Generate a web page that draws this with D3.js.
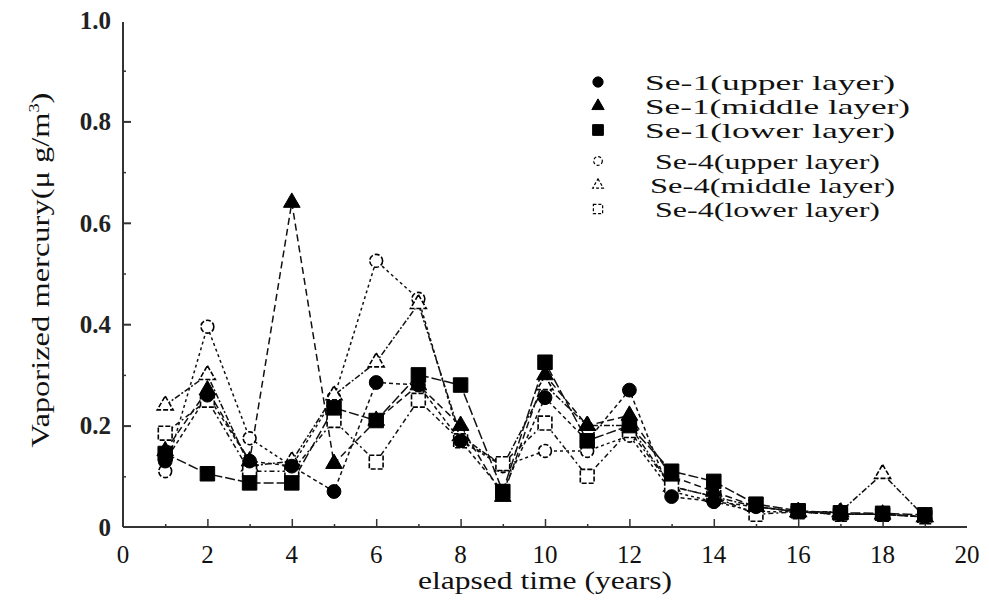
<!DOCTYPE html>
<html>
<head>
<meta charset="utf-8">
<script src="https://cdn.jsdelivr.net/npm/d3@7"></script>
<style>
  html, body { margin: 0; padding: 0; background: #fff; }
  svg { display: block; }
</style>
</head>
<body>
<svg id="chart" width="989" height="605"></svg>
<script>
// elapsed time (years)
const years = [1, 2, 3, 4, 5, 6, 7, 8, 9, 10, 11, 12, 13, 14, 15, 16, 17, 18, 19];

// vaporized mercury (μg/m³) per site and layer
const se1Upper  = [0.13, 0.26, 0.13, 0.12, 0.07, 0.285, 0.28, 0.17, 0.07, 0.255, 0.17, 0.27, 0.06, 0.05, 0.04, 0.03, 0.025, 0.025, 0.02];
const se1Middle = [0.15, 0.27, 0.13, 0.64, 0.125, 0.21, 0.28, 0.20, 0.06, 0.30, 0.20, 0.22, 0.10, 0.07, 0.04, 0.03, 0.025, 0.025, 0.02];
const se1Lower  = [0.145, 0.105, 0.087, 0.087, 0.235, 0.21, 0.30, 0.28, 0.07, 0.325, 0.17, 0.20, 0.11, 0.09, 0.045, 0.032, 0.028, 0.027, 0.024];
const se4Upper  = [0.11, 0.395, 0.175, 0.12, 0.255, 0.525, 0.45, 0.17, 0.12, 0.15, 0.15, 0.18, 0.07, 0.05, 0.03, 0.03, 0.025, 0.025, 0.02];
const se4Middle = [0.24, 0.30, 0.12, 0.13, 0.26, 0.325, 0.44, 0.18, 0.12, 0.28, 0.20, 0.20, 0.08, 0.06, 0.04, 0.03, 0.03, 0.105, 0.02];
const se4Lower  = [0.185, 0.25, 0.11, 0.11, 0.21, 0.128, 0.25, 0.17, 0.125, 0.205, 0.10, 0.19, 0.08, 0.06, 0.025, 0.03, 0.025, 0.025, 0.02];

const seriesNames = ["Se-1(upper layer)", "Se-1(middle layer)", "Se-1(lower layer)",
                     "Se-4(upper layer)", "Se-4(middle layer)", "Se-4(lower layer)"];
const seriesValues = [se1Upper, se1Middle, se1Lower, se4Upper, se4Middle, se4Lower];

const xTicks = [0, 2, 4, 6, 8, 10, 12, 14, 16, 18, 20];
const yTicks = [0, 0.2, 0.4, 0.6, 0.8, 1.0];
const yTickLabels = ["0", "0.2", "0.4", "0.6", "0.8", "1.0"];

// drawing styles per series: marker shape, filled or open, dash pattern
const styles = [
  { shape: "circle",   filled: true,  dash: "4,3" },
  { shape: "triangle", filled: true,  dash: "7,4" },
  { shape: "square",   filled: true,  dash: "10,3" },
  { shape: "circle",   filled: false, dash: "3,3" },
  { shape: "triangle", filled: false, dash: "6,2,2,2" },
  { shape: "square",   filled: false, dash: "5,3,2,3" }
];

const FONT = "'Liberation Serif', 'Times New Roman', Tinos, 'DejaVu Serif', serif";

const svg = d3.select("#chart")
  .attr("font-family", FONT)
  .style("font-family", FONT);
const x = d3.scaleLinear().domain([0, 20]).range([123, 967]);
const y = d3.scaleLinear().domain([0, 1]).range([527, 20]);

// axes: left and bottom lines with inward ticks
const axisColor = "#333";
svg.append("line").attr("x1", x(0)).attr("x2", x(0)).attr("y1", y(1) + 2).attr("y2", y(0))
  .attr("stroke", axisColor).attr("stroke-width", 2);
svg.append("line").attr("x1", x(0)).attr("x2", x(20)).attr("y1", y(0)).attr("y2", y(0))
  .attr("stroke", axisColor).attr("stroke-width", 2);

const tickGroup = (axis) => svg.append("g").call(axis)
  .call(g => g.select(".domain").remove())
  .call(g => g.selectAll("line").attr("stroke", axisColor));

tickGroup(d3.axisRight(y).tickValues([0.2, 0.4, 0.6, 0.8]).tickSize(8).tickFormat(""))
  .attr("transform", `translate(${x(0)},0)`).selectAll("line").attr("stroke-width", 2);
tickGroup(d3.axisRight(y).tickValues([0.1, 0.3, 0.5, 0.7, 0.9]).tickSize(3).tickFormat(""))
  .attr("transform", `translate(${x(0)},0)`).selectAll("line").attr("stroke-width", 1.5);
tickGroup(d3.axisTop(x).tickValues(xTicks.slice(1, -1)).tickSize(8).tickFormat(""))
  .attr("transform", `translate(0,${y(0)})`).selectAll("line").attr("stroke-width", 1.5);
tickGroup(d3.axisTop(x).tickValues(d3.range(1, 20, 2)).tickSize(3).tickFormat(""))
  .attr("transform", `translate(0,${y(0)})`).selectAll("line").attr("stroke-width", 1.5);

// tick labels
svg.append("g").selectAll("text").data(yTicks).join("text")
  .attr("x", 111).attr("y", d => y(d)).attr("dy", "0.35em")
  .attr("text-anchor", "end").attr("font-size", 25).attr("font-weight", "bold").attr("fill", "#222")
  .attr("font-family", FONT)
  .text((d, i) => yTickLabels[i]);
svg.append("g").selectAll("text").data(xTicks).join("text")
  .attr("x", d => x(d)).attr("y", 554).attr("dy", "0.35em")
  .attr("text-anchor", "middle").attr("font-size", 25).attr("fill", "#111")
  .attr("font-family", FONT)
  .text(d => d);

// axis titles
svg.append("text").attr("x", 545).attr("y", 580).attr("dy", "0.35em")
  .attr("text-anchor", "middle").attr("font-size", 25).attr("fill", "#111")
  .attr("font-family", FONT)
  .attr("textLength", 254).attr("lengthAdjust", "spacingAndGlyphs")
  .text("elapsed time (years)");

const yTitle = svg.append("text")
  .attr("transform", "translate(40,270) rotate(-90) scale(1.3,1)")
  .attr("dy", "0.35em")
  .attr("text-anchor", "middle").attr("font-size", 25).attr("fill", "#111")
  .attr("font-family", FONT);
yTitle.append("tspan").text("Vaporized mercury(μ g/m");
yTitle.append("tspan").attr("font-size", 14).attr("dy", -10).text("3");
yTitle.append("tspan").attr("dy", 10).text(")");

// marker symbol paths
const symbolOf = s => s === "circle" ? d3.symbolCircle : s === "triangle" ? d3.symbolTriangle : d3.symbolSquare;
const sizeOf = (s, filled) => s === "circle" ? (filled ? 150 : 130) : s === "triangle" ? (filled ? 120 : 110) : (filled ? 210 : 190);

// lines
const line = d3.line().x((d, i) => x(years[i])).y(d => y(d));
seriesValues.forEach((vals, k) => {
  svg.append("path").datum(vals)
    .attr("d", line)
    .attr("fill", "none").attr("stroke", "#111").attr("stroke-width", 1.5)
    .attr("stroke-dasharray", styles[k].dash);
});

// markers (open ones first so filled ones sit on top)
[3, 4, 5, 0, 1, 2].forEach(k => {
  const st = styles[k];
  svg.append("g").selectAll("path").data(seriesValues[k]).join("path")
    .attr("transform", (d, i) => `translate(${x(years[i])},${y(d)})`)
    .attr("d", d3.symbol().type(symbolOf(st.shape)).size(sizeOf(st.shape, st.filled)))
    .attr("fill", st.filled ? "#000" : "#fff")
    .attr("stroke", "#000").attr("stroke-width", st.filled ? 1 : 1.6)
    .attr("stroke-dasharray", st.filled ? null : "5,2");
});

// legend
const legendRows = [82, 106, 130, 161, 185, 209];
const legendTextX = [645, 645, 645, 655, 650, 655];
const legendWidths = [250, 265, 250, 225, 245, 225];
const legend = svg.append("g");
seriesNames.forEach((name, k) => {
  const st = styles[k];
  const scale = st.filled ? 0.55 : 0.45;
  legend.append("path")
    .attr("transform", `translate(598,${legendRows[k]})`)
    .attr("d", d3.symbol().type(symbolOf(st.shape)).size(sizeOf(st.shape, st.filled) * scale))
    .attr("fill", st.filled ? "#000" : "#fff")
    .attr("stroke", "#000").attr("stroke-width", st.filled ? 1 : 1.2)
    .attr("stroke-dasharray", st.filled ? null : "3,2");
  legend.append("text")
    .attr("x", legendTextX[k]).attr("y", legendRows[k]).attr("dy", "0.35em")
    .attr("font-size", 22).attr("fill", "#111")
    .attr("font-family", FONT)
    .attr("textLength", legendWidths[k]).attr("lengthAdjust", "spacingAndGlyphs")
    .text(name);
});
</script>
</body>
</html>
